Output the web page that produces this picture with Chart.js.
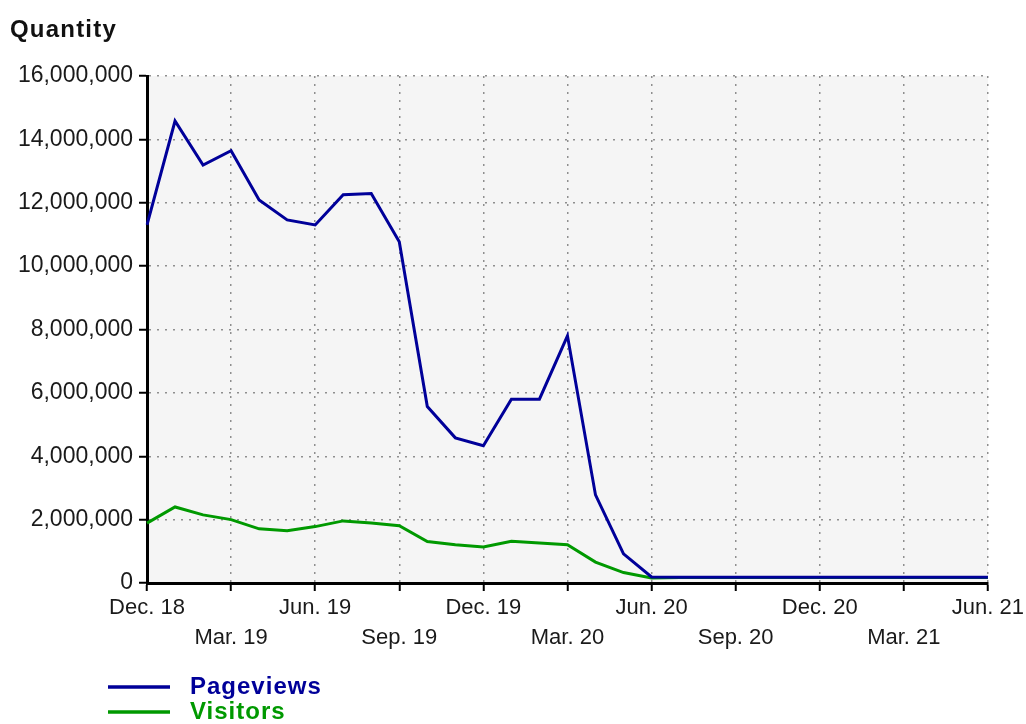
<!DOCTYPE html>
<html>
<head>
<meta charset="utf-8">
<script src="https://cdn.jsdelivr.net/npm/chart.js@4.4.1/dist/chart.umd.min.js"></script>
<style>
  html, body { margin: 0; padding: 0; background: #fff; }
  #wrap { width: 1026px; height: 724px; }
</style>
</head>
<body>
<div id="wrap"><canvas id="chart" width="1026" height="724"></canvas></div>
<script>
'use strict';

// monthly points, Dec. 18 .. Jun. 21
const months = [
  'Dec. 18', 'Jan. 19', 'Feb. 19', 'Mar. 19', 'Apr. 19', 'May. 19', 'Jun. 19',
  'Jul. 19', 'Aug. 19', 'Sep. 19', 'Oct. 19', 'Nov. 19', 'Dec. 19',
  'Jan. 20', 'Feb. 20', 'Mar. 20', 'Apr. 20', 'May. 20', 'Jun. 20',
  'Jul. 20', 'Aug. 20', 'Sep. 20', 'Oct. 20', 'Nov. 20', 'Dec. 20',
  'Jan. 21', 'Feb. 21', 'Mar. 21', 'Apr. 21', 'May. 21', 'Jun. 21',
];

const pageviews = [
  11300000, 14580000, 13190000, 13640000, 12090000, 11460000, 11300000,
  12250000, 12290000, 10770000, 5570000, 4580000, 4330000,
  5800000, 5800000, 7800000, 2780000, 920000, 190000,
  180000, 180000, 180000, 180000, 180000, 180000,
  180000, 180000, 180000, 180000, 180000, 180000,
];

const visitors = [
  1890000, 2400000, 2150000, 2000000, 1710000, 1650000, 1780000,
  1960000, 1890000, 1810000, 1310000, 1210000, 1140000,
  1320000, 1260000, 1210000, 660000, 330000, 160000,
  170000, 170000, 170000, 170000, 170000, 170000,
  170000, 170000, 170000, 170000, 170000, 170000,
];

const yMax = 16000000;
const yStep = 2000000;

const BLUE = '#000099';
const GREEN = '#009900';
const FONT = "'Liberation Sans', Arial, sans-serif";

// plot background
const plotBg = {
  id: 'plotBg',
  beforeDraw(chart) {
    const { ctx, chartArea: a } = chart;
    ctx.save();
    ctx.fillStyle = '#f5f5f5';
    ctx.fillRect(a.left, a.top, a.right - a.left, a.bottom - a.top);
    ctx.restore();
  },
};

// title top-left and stacked legend below the axis
const titleAndLegend = {
  id: 'titleAndLegend',
  afterDraw(chart) {
    const ctx = chart.ctx;
    ctx.save();
    ctx.fillStyle = '#111';
    ctx.font = 'bold 24px ' + FONT;
    ctx.letterSpacing = '1.2px';
    ctx.textBaseline = 'alphabetic';
    ctx.fillText('Quantity', 10, 37);

    ctx.font = 'bold 24px ' + FONT;
    ctx.letterSpacing = '1px';
    ctx.textBaseline = 'middle';
    chart.data.datasets.forEach((ds, i) => {
      const y = 687 + i * 25;
      ctx.strokeStyle = ds.borderColor;
      ctx.lineWidth = 3.5;
      ctx.beginPath();
      ctx.moveTo(108, y);
      ctx.lineTo(170, y);
      ctx.stroke();
      ctx.fillStyle = ds.borderColor;
      ctx.fillText(ds.label, 190, y);
    });
    ctx.restore();
  },
};

new Chart(document.getElementById('chart'), {
  type: 'line',
  data: {
    labels: months,
    datasets: [
      {
        label: 'Pageviews',
        data: pageviews,
        borderColor: BLUE,
        borderWidth: 3,
        pointRadius: 0,
        tension: 0,
        fill: false,
      },
      {
        label: 'Visitors',
        data: visitors,
        borderColor: GREEN,
        borderWidth: 3,
        pointRadius: 0,
        tension: 0,
        fill: false,
      },
    ],
  },
  options: {
    responsive: false,
    animation: false,
    events: [],
    layout: { padding: { left: 0, right: 38, top: 76, bottom: 60 } },
    plugins: {
      legend: { display: false },
      tooltip: { enabled: false },
    },
    scales: {
      x: {
        offset: false,
        afterFit: (s) => { s.height = 81; },
        ticks: {
          autoSkip: false,
          maxRotation: 0,
          padding: 2,
          color: '#1a1a1a',
          font: { family: FONT, size: 22, lineHeight: 1.364 },
          callback: (v, i) => {
            if (i % 3 !== 0) return null;
            const lbl = months[i];
            return (i / 3) % 2 === 0 ? [lbl, ''] : ['', lbl];
          },
        },
        grid: {
          color: '#8f8f8f',
          lineWidth: 1.5,
          tickLength: 8,
          tickColor: '#000',
          tickWidth: 2,
        },
        border: { display: true, color: '#000', width: 3, dash: [2, 6] },
      },
      y: {
        min: 0,
        max: yMax,
        afterFit: (s) => { s.width = 147; },
        ticks: {
          stepSize: yStep,
          padding: 6,
          color: '#1a1a1a',
          font: { family: FONT, size: 23 },
          callback: (v) => v.toLocaleString('en-US'),
        },
        grid: {
          color: '#8f8f8f',
          lineWidth: 1.5,
          tickLength: 8,
          tickColor: '#000',
          tickWidth: 2,
        },
        border: { display: true, color: '#000', width: 3, dash: [2, 6] },
      },
    },
  },
  plugins: [plotBg, titleAndLegend],
});
</script>
</body>
</html>
